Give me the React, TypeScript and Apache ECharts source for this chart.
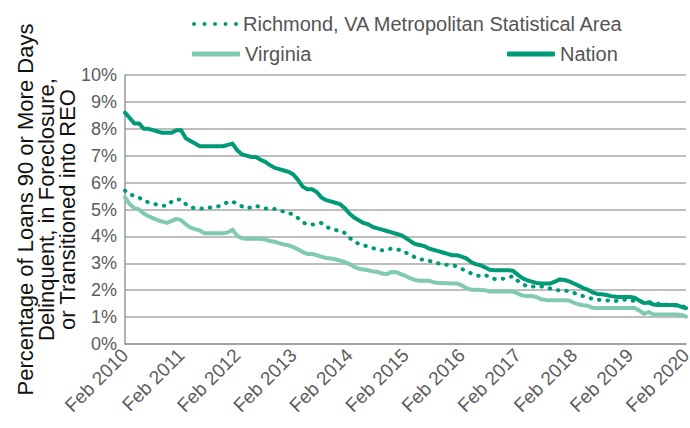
import React, { useEffect, useRef } from "react";
import * as echarts from "echarts";

const monthNames = ["Jan", "Feb", "Mar", "Apr", "May", "Jun", "Jul", "Aug", "Sep", "Oct", "Nov", "Dec"];
const startYear = 2010;
const startMonth = 1; // Feb
const monthCount = 121; // Feb 2010 .. Feb 2020
const categories: string[] = [];
for (let i = 0; i < monthCount; i++) {
  const m = (startMonth + i) % 12;
  const y = startYear + Math.floor((startMonth + i) / 12);
  categories.push(`${monthNames[m]} ${y}`);
}

const nation = [
  8.6, 8.4, 8.2, 8.2, 8.0, 8.0, 7.95, 7.9, 7.85, 7.85, 7.85, 7.95, 7.95, 7.65, 7.55, 7.45, 7.35, 7.35, 7.35, 7.35,
  7.35, 7.35, 7.4, 7.45, 7.2, 7.05, 7.0, 6.95, 6.95, 6.85, 6.77, 6.65, 6.55, 6.5, 6.45, 6.4, 6.3, 6.1, 5.85, 5.75,
  5.75, 5.65, 5.45, 5.35, 5.3, 5.25, 5.2, 5.05, 4.85, 4.7, 4.6, 4.5, 4.45, 4.35, 4.3, 4.25, 4.2, 4.15, 4.1, 4.05,
  3.95, 3.83, 3.72, 3.68, 3.64, 3.55, 3.5, 3.45, 3.4, 3.35, 3.3, 3.3, 3.25, 3.18, 3.05, 2.97, 2.93, 2.85, 2.76, 2.74,
  2.74, 2.74, 2.74, 2.72, 2.58, 2.45, 2.37, 2.32, 2.27, 2.25, 2.25, 2.25, 2.32, 2.4, 2.38, 2.33, 2.25, 2.17, 2.08, 2.02,
  1.92, 1.86, 1.85, 1.82, 1.78, 1.76, 1.75, 1.75, 1.75, 1.72, 1.62, 1.52, 1.54, 1.47, 1.45, 1.45, 1.45, 1.45, 1.45, 1.38,
  1.33,
];

const virginia = [
  5.45, 5.2, 5.05, 5.0, 4.85, 4.75, 4.68, 4.6, 4.55, 4.5, 4.58, 4.65, 4.6, 4.45, 4.33, 4.27, 4.22, 4.12, 4.12, 4.12,
  4.12, 4.12, 4.15, 4.25, 4.02, 3.93, 3.91, 3.91, 3.91, 3.91, 3.88, 3.83, 3.8, 3.75, 3.7, 3.67, 3.6, 3.52, 3.42, 3.35,
  3.35, 3.3, 3.25, 3.2, 3.18, 3.15, 3.1, 3.05, 2.97, 2.87, 2.8, 2.77, 2.74, 2.7, 2.68, 2.62, 2.6, 2.68, 2.67, 2.6,
  2.53, 2.45, 2.38, 2.35, 2.35, 2.35, 2.3, 2.27, 2.27, 2.26, 2.25, 2.25, 2.18, 2.08, 2.02, 2.02, 2.01, 2.0, 1.95, 1.95,
  1.95, 1.95, 1.95, 1.95, 1.88, 1.8, 1.78, 1.78, 1.75, 1.66, 1.64, 1.63, 1.63, 1.63, 1.63, 1.62, 1.53, 1.48, 1.44, 1.42,
  1.35, 1.34, 1.34, 1.34, 1.34, 1.34, 1.34, 1.34, 1.34, 1.34, 1.25, 1.12, 1.19, 1.1, 1.1, 1.1, 1.1, 1.1, 1.1, 1.08,
  1.02,
];

const richmond = [
  5.7, 5.55, 5.52, 5.45, 5.32, 5.27, 5.22, 5.17, 5.14, 5.14, 5.3, 5.37, 5.37, 5.2, 5.1, 5.04, 5.04, 5.04, 5.07, 5.08,
  5.12, 5.18, 5.28, 5.3, 5.2, 5.12, 5.04, 5.08, 5.14, 5.08, 5.04, 5.04, 5.02, 4.97, 4.92, 4.88, 4.8, 4.68, 4.52, 4.45,
  4.44, 4.46, 4.5, 4.38, 4.27, 4.24, 4.2, 4.13, 3.95, 3.82, 3.72, 3.67, 3.62, 3.56, 3.52, 3.48, 3.5, 3.55, 3.52, 3.49,
  3.4, 3.33, 3.22, 3.14, 3.14, 3.1, 3.03, 3.0, 2.96, 2.94, 2.93, 2.88, 2.8, 2.7, 2.63, 2.56, 2.52, 2.56, 2.5, 2.42,
  2.42, 2.43, 2.47, 2.52, 2.35, 2.24, 2.14, 2.13, 2.15, 2.14, 2.12, 2.06, 2.0, 2.0, 2.0, 1.95, 1.9, 1.84, 1.78, 1.72,
  1.68, 1.65, 1.63, 1.62, 1.6, 1.6, 1.63, 1.65, 1.62, 1.6, 1.58, 1.57, 1.56, 1.53, 1.5, 1.48, 1.46, 1.44, 1.42, 1.4,
  1.38,
];

const yTicks = { min: 0, max: 10, interval: 1 };

const DARK = "#009a76";
const LIGHT = "#80c9b3";
const FONT = "'Liberation Sans', Arial, sans-serif";

const dotIcon =
  "path://" +
  [2, 12.5, 23, 33.5, 44]
    .map((cx) => `M${cx - 2},2 a2,2 0 1,0 4,0 a2,2 0 1,0 -4,0 Z`)
    .join(" ");

export default function App() {
  const ref = useRef<HTMLDivElement>(null);
  useEffect(() => {
    if (!ref.current) return;
    const chart = echarts.init(ref.current, undefined, { renderer: "svg" });
    const legendText = { fontFamily: FONT, fontSize: 20, color: "#555" };
    chart.setOption({
      animation: false,
      grid: { left: 125, right: 4, top: 75, bottom: 84, outerBoundsMode: "none", containLabel: false },
      legend: [
        {
          data: ["Richmond, VA Metropolitan Statistical Area"],
          left: 187,
          top: 9,
          itemWidth: 46,
          itemHeight: 4.5,
          textStyle: legendText,
          icon: dotIcon,
        },
        {
          data: ["Virginia"],
          left: 187,
          top: 39,
          itemWidth: 48,
          itemHeight: 5,
          textStyle: legendText,
          icon: "roundRect",
        },
        {
          data: ["Nation"],
          left: 502,
          top: 39,
          itemWidth: 48,
          itemHeight: 5,
          textStyle: legendText,
          icon: "roundRect",
        },
      ],
      xAxis: {
        type: "category",
        data: categories,
        boundaryGap: false,
        axisLine: { show: true, lineStyle: { color: "#999", width: 1.5 } },
        axisTick: { show: false },
        axisLabel: {
          interval: 11,
          rotate: 45,
          fontFamily: FONT,
          fontSize: 19,
          color: "#5c5c5c",
          margin: 8,
        },
        splitLine: { show: false },
      },
      yAxis: {
        type: "value",
        min: yTicks.min,
        max: yTicks.max,
        interval: yTicks.interval,
        name: "Percentage of Loans 90 or More Days\nDelinquent, in Foreclosure,\nor Transitioned into REO",
        nameLocation: "middle",
        nameRotate: 90,
        nameGap: 47,
        nameMoveOverlap: false,
        nameTextStyle: { fontFamily: FONT, fontSize: 22, color: "#111", lineHeight: 21, align: "center" },
        axisLine: { show: true, lineStyle: { color: "#999", width: 1.5 } },
        axisTick: { show: false },
        axisLabel: {
          formatter: "{value}%",
          fontFamily: FONT,
          fontSize: 18,
          color: "#5c5c5c",
          margin: 8,
        },
        splitLine: { show: true, lineStyle: { color: "#a8a8a8", width: 1.5 } },
      },
      series: [
        {
          name: "Richmond, VA Metropolitan Statistical Area",
          type: "line",
          data: richmond,
          symbol: "none",
          z: 3,
          lineStyle: { color: DARK, width: 4, type: [0.5, 8], cap: "round" },
          itemStyle: { color: DARK },
        },
        {
          name: "Virginia",
          type: "line",
          data: virginia,
          symbol: "none",
          z: 2,
          lineStyle: { color: LIGHT, width: 4, cap: "round", join: "round" },
          itemStyle: { color: LIGHT },
        },
        {
          name: "Nation",
          type: "line",
          data: nation,
          symbol: "none",
          z: 4,
          lineStyle: { color: DARK, width: 4, cap: "round", join: "round" },
          itemStyle: { color: DARK },
        },
      ],
    });
    return () => chart.dispose();
  }, []);
  return <div ref={ref} style={{ width: 690, height: 428, position: "absolute", left: 0, top: 0 }} />;
}
